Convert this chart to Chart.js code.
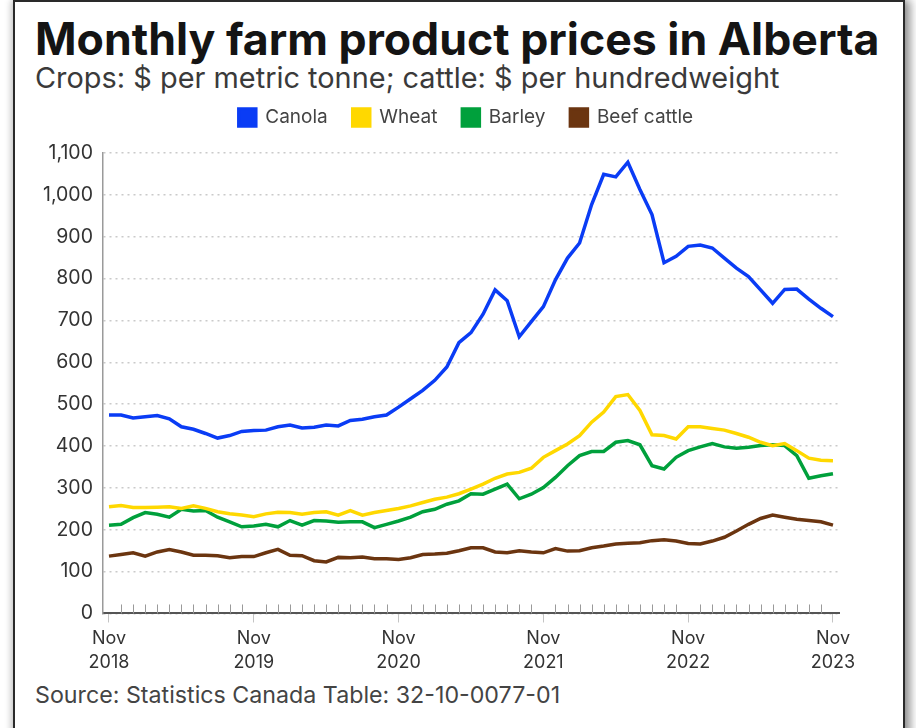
<!DOCTYPE html>
<html>
<head>
<meta charset="utf-8">
<script src="https://cdn.jsdelivr.net/npm/chart.js@4.4.1/dist/chart.umd.min.js"></script>
<style>
  html, body { margin: 0; padding: 0; background: #fff; width: 916px; height: 728px; overflow: hidden; }
  #frame {
    position: absolute; left: 13px; top: 0px; width: 888px; height: 760px;
    border: 2px solid #2a2a2a; background: #fff;
    box-shadow: 5px 0 9px rgba(0,0,0,0.45), -3px 0 6px rgba(0,0,0,0.15);
  }
  .txt { position: absolute; font-family: Inter, Roboto, sans-serif; white-space: nowrap; }
  #title { left: 20px; top: 10px; font-size: 42px; font-weight: 700; color: #141414; }
  #subtitle { left: 20px; top: 58px; font-size: 26px; color: #3a3a3a; }
  #source { left: 20px; top: 678px; font-size: 20px; color: #444; }
  #wrap { position: absolute; left: 0px; top: 81px; width: 888px; height: 595px; }
</style>
</head>
<body>
<div id="frame">
  <div class="txt" id="title">Monthly farm product prices in Alberta</div>
  <div class="txt" id="subtitle">Crops: $ per metric tonne; cattle: $ per hundredweight</div>
  <div id="wrap"><canvas id="chart"></canvas></div>
  <div class="txt" id="source">Source: Statistics Canada Table: 32-10-0077-01</div>
</div>
<script>
// Month categories, Nov 2018 .. Nov 2023
const monthNames = ['Jan', 'Feb', 'Mar', 'Apr', 'May', 'Jun', 'Jul', 'Aug', 'Sep', 'Oct', 'Nov', 'Dec'];
const months = [];
for (let k = 0; k <= 60; k++) {
  const m = (10 + k) % 12;
  const y = 2018 + Math.floor((10 + k) / 12);
  months.push(monthNames[m] + ' ' + y);
}

// Series values
const canola = [474, 474, 467, 470, 473, 465, 446, 440, 430, 419, 425, 435,
  437, 438, 446, 450, 443, 445, 450, 448, 461, 464, 470, 474,
  493, 513, 533, 557, 589, 647, 671, 715, 773, 747, 661, 697,
  733, 797, 849, 885, 977, 1049, 1043, 1078, 1013, 953, 838, 853,
  877, 880, 873, 849, 825, 805, 773, 741, 774, 775, 751, 729, 709];
const wheat = [255, 258, 253, 253, 254, 255, 251, 257, 251, 243, 238, 235,
  231, 238, 242, 241, 237, 241, 243, 235, 246, 235, 241, 246,
  251, 257, 265, 273, 278, 286, 297, 309, 323, 333, 337, 347,
  373, 389, 405, 425, 457, 481, 518, 523, 485, 427, 425, 417,
  446, 446, 442, 438, 430, 421, 409, 401, 406, 389, 371, 366, 365];
const barley = [211, 213, 229, 241, 237, 230, 249, 245, 246, 230, 219, 207,
  209, 213, 207, 222, 211, 222, 221, 218, 219, 219, 205, 213,
  221, 230, 243, 249, 261, 269, 286, 285, 297, 309, 274, 285,
  301, 325, 353, 377, 387, 387, 409, 413, 403, 353, 345, 373,
  389, 398, 406, 398, 395, 397, 401, 403, 401, 377, 323, 329, 334];
const beef = [137, 141, 145, 137, 147, 153, 147, 139, 139, 138, 133, 136,
  136, 145, 153, 139, 138, 126, 123, 134, 133, 135, 131, 131,
  129, 133, 141, 142, 144, 150, 157, 157, 147, 145, 150, 147,
  145, 155, 149, 150, 157, 161, 166, 168, 169, 174, 176, 173,
  167, 166, 173, 182, 197, 213, 227, 235, 230, 225, 222, 219, 211];

const seriesNames = ['Canola', 'Wheat', 'Barley', 'Beef cattle'];
const seriesColors = ['#0a3cf5', '#ffd800', '#00a03c', '#6b3510'];

// fit the heading texts to the widths they have in the picture
function fitWidth(id, target) {
  const el = document.getElementById(id);
  const size = parseFloat(getComputedStyle(el).fontSize);
  el.style.fontSize = (size * target / el.offsetWidth).toFixed(2) + 'px';
}
fitWidth('title', 845);
fitWidth('subtitle', 745);
fitWidth('source', 525);

// Small upward ticks for every month along the bottom axis
const minorTicks = {
  id: 'minorTicks',
  beforeDatasetsDraw(chart) {
    const x = chart.scales.x;
    const bottom = chart.chartArea.bottom;
    const ctx = chart.ctx;
    ctx.save();
    ctx.strokeStyle = '#9a9a9a';
    ctx.lineWidth = 1;
    for (let i = 1; i < months.length; i++) {
      if (i % 12 === 0) continue;
      const px = Math.round(x.getPixelForValue(i)) + 0.5;
      ctx.beginPath();
      ctx.moveTo(px, bottom);
      ctx.lineTo(px, bottom - 9);
      ctx.stroke();
    }
    ctx.restore();
  }
};

// extra room under the legend, and nudge it to sit over the plot
const legendSpace = {
  id: 'legendSpace',
  beforeInit(chart) {
    const fit = chart.legend.fit;
    chart.legend.fit = function () {
      fit.bind(chart.legend)();
      this.height += 16;
    };
  },
  afterLayout(chart) {
    chart.legend.left += 30;
    chart.legend.right += 30;
  }
};

const ctx = document.getElementById('chart').getContext('2d');
new Chart(ctx, {
  type: 'line',
  data: {
    labels: months,
    datasets: [canola, wheat, barley, beef].map((values, i) => ({
      label: seriesNames[i],
      data: values,
      borderColor: seriesColors[i],
      backgroundColor: seriesColors[i],
      borderWidth: 3.5,
      pointRadius: 0,
      tension: 0
    }))
  },
  options: {
    responsive: true,
    maintainAspectRatio: false,
    animation: false,
    layout: { padding: { left: 18, right: 64, top: 0, bottom: 0 } },
    plugins: {
      legend: {
        position: 'top',
        labels: {
          boxWidth: 17,
          boxHeight: 17,
          padding: 25,
          color: '#444',
          font: { family: 'Inter', size: 19 }
        }
      },
      tooltip: { enabled: false }
    },
    scales: {
      x: {
        offset: true,
        grid: {
          offset: false,
          drawOnChartArea: false,
          drawTicks: true,
          tickLength: 9,
          color: (c) => (c.index % 12 === 0 ? '#c4c4c4' : 'rgba(0,0,0,0)')
        },
        border: { display: true, color: '#555', width: 2 },
        ticks: {
          autoSkip: false,
          maxRotation: 0,
          padding: 4,
          color: '#333',
          font: { family: 'Inter', size: 18, lineHeight: 1.32 },
          callback: (v, i) => {
            if (i % 12 !== 0) return '';
            const parts = months[i].split(' ');
            return [parts[0], parts[1]];
          }
        }
      },
      y: {
        min: 0,
        max: 1100,
        ticks: {
          stepSize: 100,
          padding: 10,
          color: '#333',
          font: { family: 'Inter', size: 19.5 }
        },
        grid: {
          drawTicks: false,
          color: '#cacaca',
          lineWidth: 1.5
        },
        border: { display: true, color: '#9a9a9a', width: 1.5, dash: [2, 4] }
      }
    }
  },
  plugins: [minorTicks, legendSpace]
});
</script>
</body>
</html>
